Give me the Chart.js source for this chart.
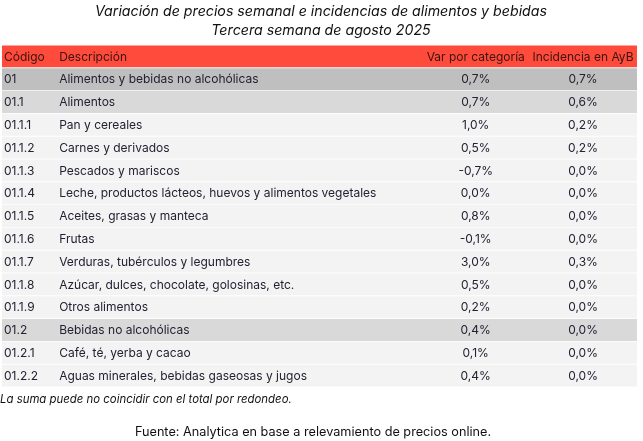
<!DOCTYPE html>
<html><head><meta charset="utf-8">
<script src="https://cdn.jsdelivr.net/npm/chart.js@4.4.0/dist/chart.umd.min.js"></script>
<style>html,body{margin:0;padding:0;background:#fff;}canvas{display:block;}</style>
</head><body>
<canvas id="c" width="643" height="441"></canvas>
<script>
const titleLines = ["Variación de precios semanal e incidencias de alimentos y bebidas", "Tercera semana de agosto 2025"];
const headers = ["Código", "Descripción", "Var por categoría", "Incidencia en AyB"];
const codes = ["01","01.1","01.1.1","01.1.2","01.1.3","01.1.4","01.1.5","01.1.6","01.1.7","01.1.8","01.1.9","01.2","01.2.1","01.2.2"];
const descriptions = ["Alimentos y bebidas no alcohólicas","Alimentos","Pan y cereales","Carnes y derivados","Pescados y mariscos","Leche, productos lácteos, huevos y alimentos vegetales","Aceites, grasas y manteca","Frutas","Verduras, tubérculos y legumbres","Azúcar, dulces, chocolate, golosinas, etc.","Otros alimentos","Bebidas no alcohólicas","Café, té, yerba y cacao","Aguas minerales, bebidas gaseosas y jugos"];
const varCategoria = [0.7,0.7,1.0,0.5,-0.7,0.0,0.8,-0.1,3.0,0.5,0.2,0.4,0.1,0.4];
const incidencia = [0.7,0.6,0.2,0.2,0.0,0.0,0.0,0.0,0.3,0.0,0.0,0.0,0.0,0.0];
const levels = [0,1,2,2,2,2,2,2,2,2,2,1,2,2];
const footnote = "La suma puede no coincidir con el total por redondeo.";
const source = "Fuente: Analytica en base a relevamiento de precios online.";

const rowLabels = ["header"].concat(codes);
const levelColors = ["#bfbfbf","#d9d9d9","#f3f3f3"];
const rowColors = ["#fe4b3b"].concat(levels.map(l => levelColors[l]));
const fmt = v => v.toFixed(1).replace(".", ",") + "%";

const FONT = "Inter, 'Open Sans', sans-serif";

const tablePlugin = {
  id: "tableText",
  afterDatasetsDraw(chart) {
    const ctx = chart.ctx, x = chart.scales.x, y = chart.scales.y;
    ctx.save();
    ctx.textBaseline = "middle";
    const colCode = x.getPixelForValue(0) + 2;
    const colDesc = x.getPixelForValue(9);
    const colVar = x.getPixelForValue(74.6);
    const colInc = x.getPixelForValue(91.5);
    rowLabels.forEach((lab, i) => {
      const yy = y.getPixelForValue(i) + 0.5;
      ctx.font = "12px " + FONT;
      if (i === 0) {
        ctx.fillStyle = "#3a1410";
        ctx.textAlign = "left";
        ctx.fillText(headers[0], colCode, yy);
        ctx.fillText(headers[1], colDesc, yy);
        ctx.textAlign = "center";
        ctx.fillText(headers[2], colVar, yy);
        ctx.fillText(headers[3], colInc, yy);
      } else {
        const k = i - 1;
        ctx.fillStyle = "#222233";
        ctx.textAlign = "left";
        ctx.fillText(codes[k], colCode, yy);
        ctx.fillText(descriptions[k], colDesc, yy);
        ctx.textAlign = "center";
        ctx.fillText(fmt(varCategoria[k]), colVar, yy);
        ctx.fillText(fmt(incidencia[k]), colInc, yy);
      }
    });
    // titles
    ctx.fillStyle = "#111";
    ctx.textAlign = "center";
    ctx.font = "italic 14.2px " + FONT;
    ctx.fillText(titleLines[0], 321, 12);
    ctx.fillText(titleLines[1], 321, 31);
    ctx.textAlign = "left";
    ctx.font = "italic 11.4px " + FONT;
    ctx.fillText(footnote, 0, 400);
    ctx.textAlign = "center";
    ctx.font = "12.7px " + FONT;
    ctx.fillText(source, 313, 432);
    ctx.restore();
  }
};

new Chart(document.getElementById("c"), {
  type: "bar",
  data: {
    labels: rowLabels,
    datasets: [{
      data: rowLabels.map(() => [0, 100]),
      backgroundColor: rowColors,
      barPercentage: 1,
      categoryPercentage: 0.96,
      borderWidth: 0
    }]
  },
  options: {
    indexAxis: "y",
    responsive: false,
    animation: false,
    devicePixelRatio: 1,
    layout: { padding: { left: 2, right: 6, top: 45, bottom: 54 } },
    scales: {
      x: { type: "linear", min: 0, max: 100, display: false },
      y: { type: "category", display: false, offset: true }
    },
    plugins: { legend: { display: false }, tooltip: { enabled: false }, title: { display: false } }
  },
  plugins: [tablePlugin]
});
</script>
</body></html>
